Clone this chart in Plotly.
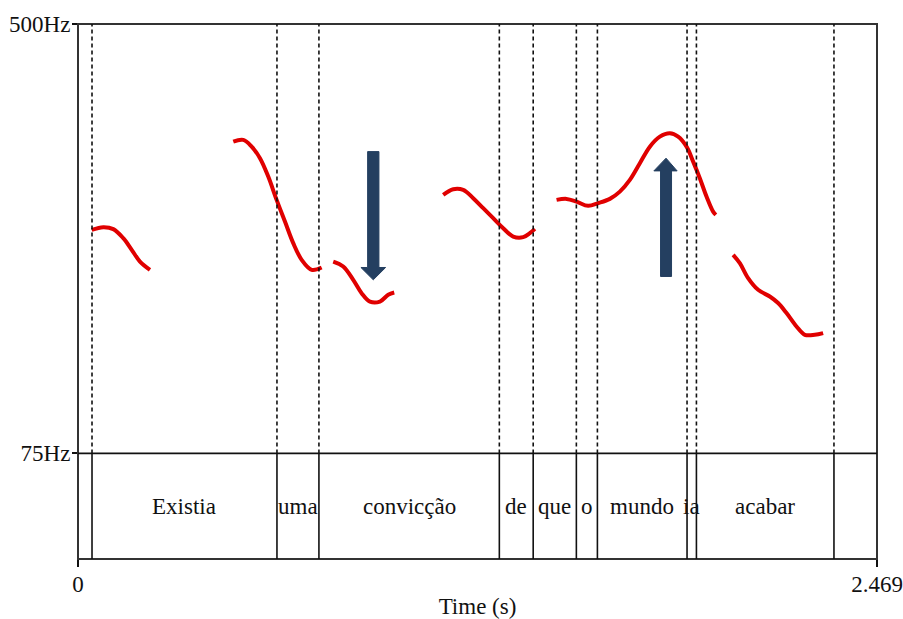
import plotly.graph_objects as go

# ---- data ----
T_MAX = 2.469
F_MIN, F_MAX = 75, 500

boundaries = [0.0433, 0.6148, 0.7445, 1.302, 1.4066, 1.540, 1.605, 1.882, 1.911, 2.336]
words = ["Existia", "uma", "convicção", "de", "que", "o", "mundo", "ia", "acabar"]

seg1_t = [0.0423, 0.0782, 0.1091, 0.1399, 0.1659, 0.1915, 0.2224]
seg1_f = [296.2, 298.9, 297.0, 288.0, 276.5, 264.9, 256.7]

seg2_t = [0.4798, 0.5107, 0.5366, 0.5623, 0.5879, 0.6138, 0.6395, 0.6651, 0.6911, 0.7220, 0.7529]
seg2_f = [383.6, 385.3, 378.6, 367.2, 349.0, 325.9, 304.5, 283.1, 266.6, 256.7, 259.0]

seg3_t = [0.7887, 0.8196, 0.8505, 0.8764, 0.9021, 0.9330, 0.9586, 0.9772]
seg3_f = [264.9, 260.0, 246.8, 233.6, 225.3, 225.3, 232.0, 234.2]

seg4_t = [1.1285, 1.1594, 1.1903, 1.2212, 1.2521, 1.2830, 1.3139, 1.3448, 1.3757, 1.3963, 1.4118]
seg4_f = [330.9, 336.5, 335.8, 327.6, 317.7, 307.8, 297.9, 289.6, 289.0, 293.0, 297.2]

seg5_t = [1.4788, 1.5097, 1.5406, 1.5764, 1.6073, 1.6435, 1.6744, 1.7053, 1.7362, 1.7671,
          1.7980, 1.8289, 1.8545, 1.8805, 1.9009, 1.9215, 1.9422, 1.9626, 1.9710]
seg5_f = [325.9, 326.9, 324.2, 320.0, 322.7, 326.9, 334.1, 345.7, 362.2, 378.6,
          388.5, 391.9, 388.5, 378.6, 363.8, 347.4, 329.2, 314.3, 311.1]

seg6_t = [2.0244, 2.0451, 2.0707, 2.1016, 2.1378, 2.1634, 2.1894, 2.2203, 2.2459, 2.2768, 2.3025]
seg6_f = [271.5, 263.3, 248.5, 236.9, 230.3, 223.8, 213.9, 200.6, 192.4, 192.4, 194.1]

segments = [(seg1_t, seg1_f), (seg2_t, seg2_f), (seg3_t, seg3_f),
            (seg4_t, seg4_f), (seg5_t, seg5_f), (seg6_t, seg6_f)]

# arrows: (shaft left, shaft right, head left, head right, tail f, head base f, tip f)
arrow_down = (0.8950, 0.9299, 0.8743, 0.9506, 373.7, 259.0, 246.8)
arrow_up = (1.8001, 1.8341, 1.7795, 1.8514, 250.1, 354.6, 367.2)

# ---- style ----
FONT = "Liberation Serif, Times New Roman, serif"
FS = 23
RED = "#E00000"
NAVY = "#243F60"
FRAME = "#333333"
INK = "#111111"
TIER_FRAC = 0.1974

fig = go.Figure()

for t, f in segments:
    fig.add_trace(go.Scatter(x=t, y=f, mode="lines", xaxis="x", yaxis="y",
                             line=dict(color=RED, width=4, shape="spline", smoothing=1.0),
                             hoverinfo="skip", showlegend=False))

def arrow_poly(a):
    sl, sr, hl, hr, tail, base, tip = a
    c = (sl + sr) / 2
    xs = [sl, sr, sr, hr, c, hl, sl, sl]
    ys = [tail, tail, base, base, tip, base, base, tail]
    return xs, ys

for a in (arrow_down, arrow_up):
    xs, ys = arrow_poly(a)
    fig.add_trace(go.Scatter(x=xs, y=ys, mode="lines", fill="toself", fillcolor=NAVY,
                             line=dict(color=NAVY, width=1), xaxis="x", yaxis="y",
                             hoverinfo="skip", showlegend=False))

shapes = []
# outer frame
shapes.append(dict(type="rect", xref="paper", yref="paper", x0=0, x1=1, y0=0, y1=1,
                   line=dict(color=FRAME, width=2)))
# 75 Hz separator line (boundary between pitch panel and text tier)
shapes.append(dict(type="line", xref="paper", yref="paper", x0=0, x1=1,
                   y0=TIER_FRAC, y1=TIER_FRAC, line=dict(color=INK, width=1.6)))
for b in boundaries:
    shapes.append(dict(type="line", xref="x", yref="y", x0=b, x1=b, y0=F_MIN, y1=F_MAX,
                       line=dict(color=INK, width=1.6, dash="4px,3px")))
    shapes.append(dict(type="line", xref="x", yref="y2", x0=b, x1=b, y0=0, y1=1,
                       line=dict(color=INK, width=1.6)))

annotations = []
for i, w in enumerate(words):
    annotations.append(dict(x=(boundaries[i] + boundaries[i + 1]) / 2, y=0.5,
                            xref="x", yref="y2", text=w, showarrow=False,
                            font=dict(family=FONT, size=FS, color=INK)))

fig.update_layout(
    width=903, height=619,
    margin=dict(l=78, r=26, t=24, b=60),
    paper_bgcolor="white", plot_bgcolor="white",
    showlegend=False,
    shapes=shapes, annotations=annotations,
    font=dict(family=FONT, size=FS, color=INK),
    xaxis=dict(range=[0, T_MAX], domain=[0, 1], anchor="y2", automargin=False,
               tickvals=[0, T_MAX], ticktext=["0", "2.469"],
               ticks="outside", ticklen=7, tickwidth=1.5, tickcolor=INK,
               ticklabelstandoff=-3,
               showgrid=False, zeroline=False, showline=False,
               title=dict(text="Time (s)", standoff=4, font=dict(family=FONT, size=FS))),
    yaxis=dict(range=[F_MIN, F_MAX], domain=[TIER_FRAC, 1], anchor="x", automargin=False,
               tickvals=[F_MIN, F_MAX], ticktext=["75Hz", "500Hz"],
               ticks="outside", ticklen=5, tickwidth=1.5, tickcolor=INK,
               ticklabelstandoff=-3,
               showgrid=False, zeroline=False, showline=False),
    yaxis2=dict(range=[0, 1], domain=[0, TIER_FRAC], anchor="x", automargin=False,
                showticklabels=False, ticks="", showgrid=False, zeroline=False, showline=False),
)

fig.write_html("out.html", config={"displayModeBar": False})
with open("out.html", "r", encoding="utf-8") as fh:
    html = fh.read()
html = html.replace("<body>", '<body style="margin:0;padding:0;overflow:hidden">', 1)
with open("out.html", "w", encoding="utf-8") as fh:
    fh.write(html)
